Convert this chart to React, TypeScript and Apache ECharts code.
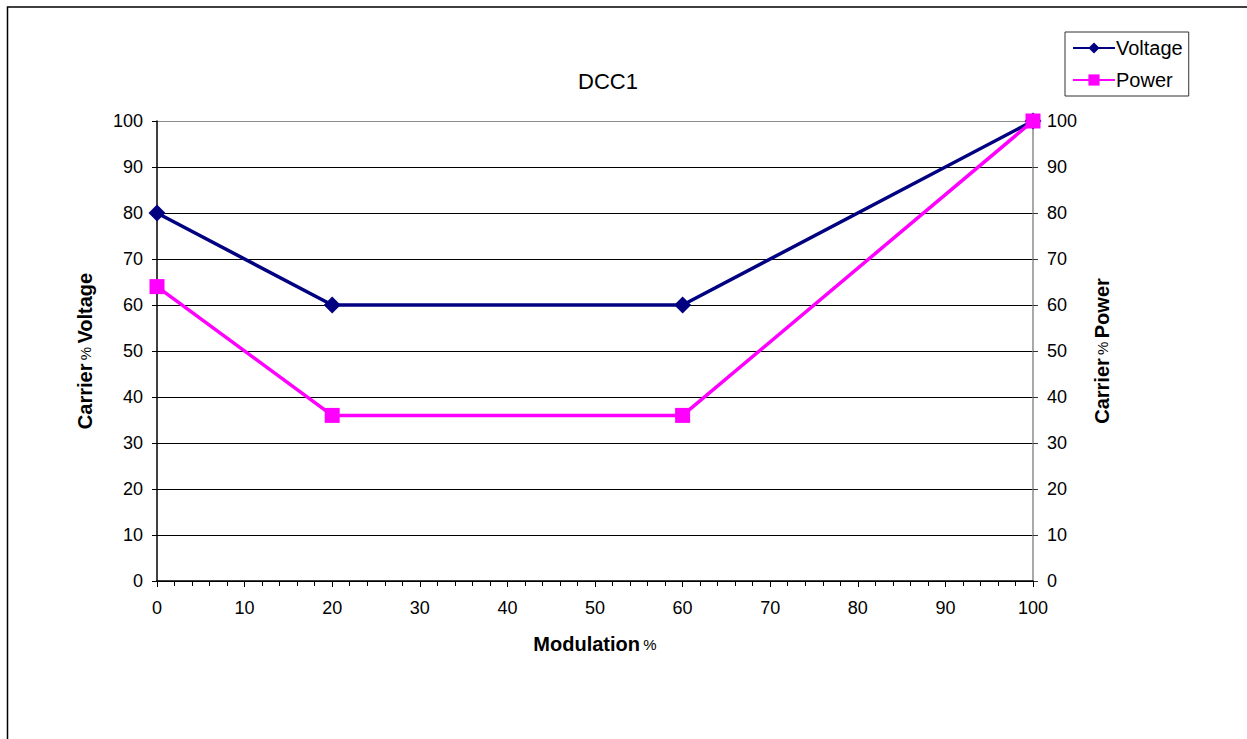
import React, { useEffect, useRef } from "react";
import * as echarts from "echarts";

const modulation = [0, 20, 60, 100];
const voltage = [80, 60, 60, 100];
const power = [64, 36, 36, 100];
const titleText = "DCC1";
const seriesNames = ["Voltage", "Power"];

const FONT = "'Liberation Sans', Arial, sans-serif";

export default function App() {
  const ref = useRef<HTMLDivElement>(null);
  useEffect(() => {
    if (!ref.current) return;
    const chart = echarts.init(ref.current, undefined, { renderer: "svg" });
    const splitColors = [
      "#000", "#000", "#000", "#000", "#000", "#000", "#000", "#000", "#000", "#000", "#8c8c8c",
    ];
    const nameRich = {
      b: { fontFamily: FONT, fontSize: 20, fontWeight: "bold", color: "#000" },
      p: { fontFamily: FONT, fontSize: 15, color: "#000" },
    };
    const yCommon = {
      type: "value",
      min: 0,
      max: 100,
      interval: 10,
      nameLocation: "middle",
      nameRotate: 90,
      nameTextStyle: { rich: nameRich },
      axisLabel: { fontFamily: FONT, fontSize: 18, color: "#000", margin: 14 },
      axisTick: { show: true, length: 5, lineStyle: { color: "#000" } },
    };
    chart.setOption({
      animation: false,
      title: {
        text: titleText,
        left: 573,
        top: 65,
        textStyle: { fontFamily: FONT, fontSize: 22, fontWeight: "normal", color: "#000" },
      },
      graphic: [
        {
          type: "rect",
          shape: { x: 7.5, y: 7, width: 1300, height: 800 },
          style: { fill: "none", stroke: "#000", lineWidth: 1.5 },
          silent: true,
        },
      ],
      legend: {
        orient: "vertical",
        left: 1065,
        top: 32,
        padding: [6, 6, 6, 7],
        itemGap: 12,
        itemWidth: 42,
        itemHeight: 14,
        borderColor: "#333",
        borderWidth: 1,
        backgroundColor: "#fff",
        textStyle: { fontFamily: FONT, fontSize: 20, color: "#000", padding: [0, 0, 0, -4] },
        data: seriesNames,
      },
      grid: {
        left: 157,
        right: 214,
        top: 121,
        bottom: 158,
        show: false,
      },
      xAxis: {
        type: "value",
        min: 0,
        max: 100,
        interval: 10,
        name: "{b|Modulation} {p|%}",
        nameLocation: "middle",
        nameGap: 53,
        nameTextStyle: { rich: nameRich },
        axisLine: { show: true, onZero: false, lineStyle: { color: "#000", width: 1.5 } },
        axisTick: { show: true, length: 6, lineStyle: { color: "#000" } },
        minorTick: { show: true, splitNumber: 5, length: 5, lineStyle: { color: "#000" } },
        axisLabel: { fontFamily: FONT, fontSize: 18, color: "#000", margin: 18 },
        splitLine: { show: false },
      },
      yAxis: [
        {
          ...yCommon,
          position: "left",
          name: "{b|Carrier} {p|%} {b|Voltage}",
          nameGap: 62,
          axisLine: { show: true, lineStyle: { color: "#000", width: 1.5 } },
          splitLine: { show: true, lineStyle: { color: splitColors, width: 1 } },
        },
        {
          ...yCommon,
          position: "right",
          name: "{b|Carrier} {p|%} {b|Power}",
          nameGap: 59,
          axisLine: { show: true, lineStyle: { color: "#8c8c8c", width: 1.5 } },
          axisTick: { show: true, length: 5, lineStyle: { color: "#333" } },
          axisLabel: { fontFamily: FONT, fontSize: 18, color: "#000", margin: 14 },
          splitLine: { show: false },
        },
      ],
      series: [
        {
          name: seriesNames[0],
          type: "line",
          yAxisIndex: 0,
          data: modulation.map((m, i) => [m, voltage[i]]),
          symbol: "diamond",
          symbolSize: 17,
          clip: false,
          z: 3,
          itemStyle: { color: "#000080" },
          lineStyle: { color: "#000080", width: 3.5 },
        },
        {
          name: seriesNames[1],
          type: "line",
          yAxisIndex: 1,
          data: modulation.map((m, i) => [m, power[i]]),
          symbol: "rect",
          symbolSize: 15,
          clip: false,
          z: 4,
          itemStyle: { color: "#ff00ff" },
          lineStyle: { color: "#ff00ff", width: 3.5 },
        },
      ],
    });
    return () => chart.dispose();
  }, []);
  return (
    <div
      ref={ref}
      style={{ position: "fixed", left: 0, top: 0, width: 1247, height: 739, background: "#fff" }}
    />
  );
}
